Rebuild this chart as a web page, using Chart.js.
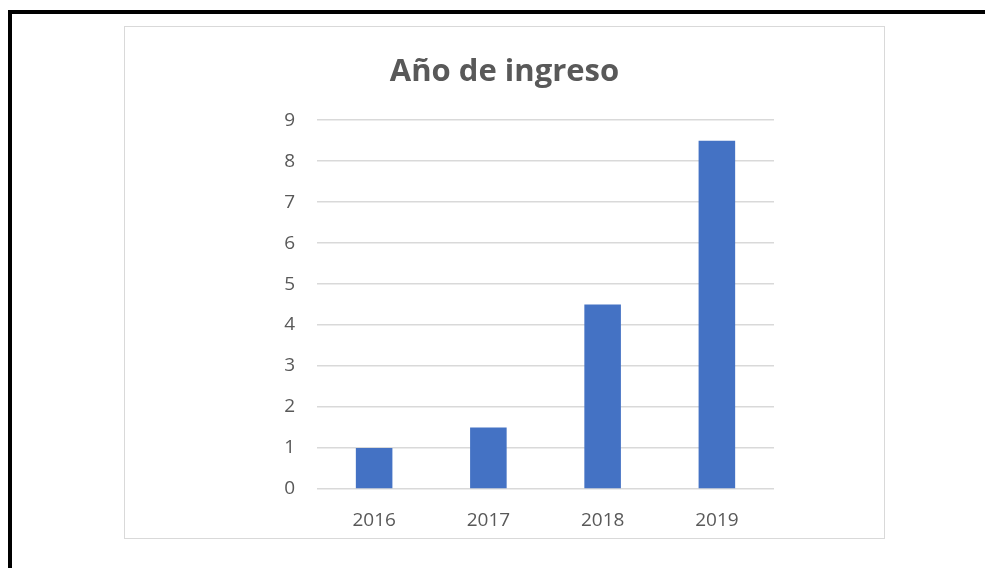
<!DOCTYPE html>
<html>
<head>
<meta charset="utf-8">
<script src="https://cdn.jsdelivr.net/npm/chart.js"></script>
<style>
  html, body { margin: 0; padding: 0; background: #fff; }
  body { width: 985px; height: 568px; position: relative; overflow: hidden; }
  #marco { position: absolute; left: 8px; top: 10px; right: -10px; bottom: -10px; border-left: 4px solid #000; border-top: 4px solid #000; }
  #caja { position: absolute; left: 124px; top: 26px; width: 759px; height: 511px; border: 1px solid #d9d9d9; }
  #caja canvas { display: block; }
</style>
</head>
<body>
<div id="marco"></div>
<div id="caja"><canvas id="grafico" width="759" height="511"></canvas></div>
<script>
// datos del gráfico
const titulo = 'Año de ingreso';
const anios = ['2016', '2017', '2018', '2019'];
const cantidades = [1, 1.5, 4.5, 8.5];
const marcasY = [0, 1, 2, 3, 4, 5, 6, 7, 8, 9];

const gris = '#595959';

const ctx = document.getElementById('grafico').getContext('2d');
new Chart(ctx, {
    type: 'bar',
    data: {
        labels: anios,
        datasets: [{
            label: titulo,
            data: cantidades,
            backgroundColor: '#4472C4',
            borderWidth: 0,
            categoryPercentage: 0.8,
            barPercentage: 0.4
        }]
    },
    options: {
        responsive: false,
        animation: false,
        layout: { padding: 0 },
        plugins: {
            legend: { display: false },
            tooltip: { enabled: false },
            title: {
                display: true,
                text: titulo,
                color: gris,
                font: { family: 'Open Sans', size: 31, weight: 'bold' },
                padding: { top: 27, bottom: 29 }
            }
        },
        scales: {
            x: {
                grid: { display: false },
                border: { display: false },
                ticks: { color: gris, font: { family: 'Open Sans', size: 19 }, padding: 12 },
                afterFit: (eje) => { eje.height = 49; }
            },
            y: {
                min: 0,
                max: 9,
                afterBuildTicks: (eje) => { eje.ticks = marcasY.map(v => ({ value: v })); },
                grid: { color: '#d9d9d9', lineWidth: 1.5, drawTicks: false },
                border: { display: false },
                ticks: { color: gris, font: { family: 'Open Sans', size: 19 }, padding: 22 },
                afterFit: (eje) => { eje.width = 192; }
            },
            // eje vacío a la derecha, solo para dejar el margen
            margen: {
                position: 'right',
                grid: { display: false },
                border: { display: false },
                ticks: { display: false },
                afterFit: (eje) => { eje.width = 110; }
            }
        }
    }
});
</script>
</body>
</html>
